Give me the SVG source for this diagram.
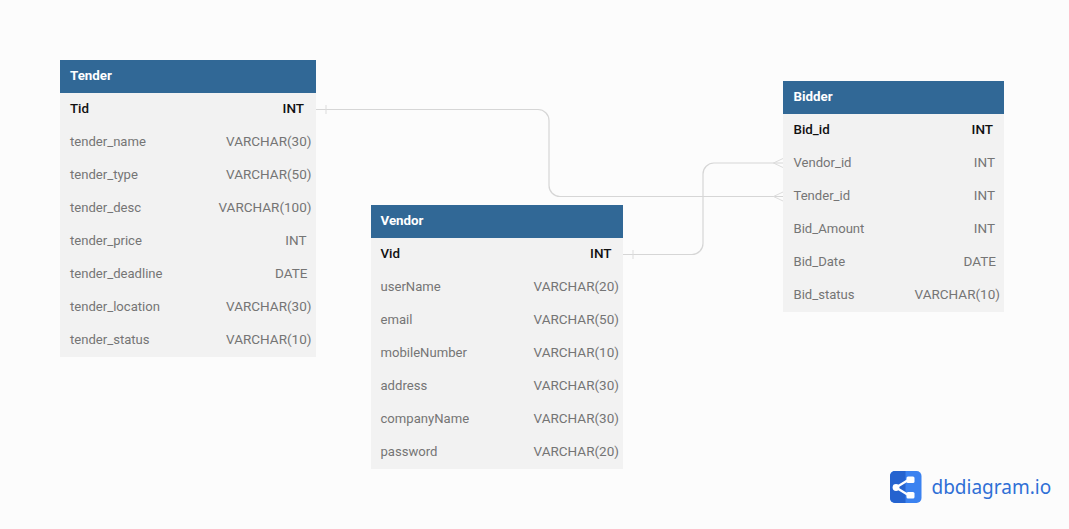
<svg xmlns="http://www.w3.org/2000/svg" width="1069" height="529" viewBox="0 0 1069 529">
<style>
text{font-family:Roboto,"Liberation Sans",sans-serif;font-size:13.100px}
text[text-anchor]{font-size:13.500px}
.body{fill:#f2f2f2}
.head{fill:#316896}
.title{fill:#fff;font-weight:700;font-size:13.330px}
.n{fill:#757575}
.pk{fill:#111;font-weight:500;font-size:13.330px}
.c{fill:none;stroke:#d6d6d6;stroke-width:1.2}
.m{fill:none;stroke:#dcdcdc;stroke-width:1}
</style>
<rect width="1069" height="529" fill="#fcfcfc"/>
<g id="connectors">
<path class="c" d="M316 109.500H538a11 11 0 0 1 11 11V185.500a11 11 0 0 0 11 11H783"/>
<path class="m" d="M326 105V114"/>
<path class="m" d="M783 192L773.500 196.500L783 201"/>
<path class="c" d="M623 254.500H692a11 11 0 0 0 11-11V174a11 11 0 0 1 11-11H783"/>
<path class="m" d="M633 250V259"/>
<path class="m" d="M783 158.500L773.500 163L783 167.500"/>
</g>
<g id="tender">
<rect class="body" x="60" y="60" width="256" height="297"/>
<rect class="head" x="60" y="60" width="256" height="33"/>
<text class="title" x="70" y="80">Tender</text>
<text class="pk" x="70" y="113">Tid</text><text class="pk" x="304" y="113" text-anchor="end">INT</text>
<text class="n" x="70" y="146">tender_name</text><text class="n" x="311.500" y="146" text-anchor="end">VARCHAR(30)</text>
<text class="n" x="70" y="179">tender_type</text><text class="n" x="311.500" y="179" text-anchor="end">VARCHAR(50)</text>
<text class="n" x="70" y="212">tender_desc</text><text class="n" x="311.500" y="212" text-anchor="end">VARCHAR(100)</text>
<text class="n" x="70" y="245">tender_price</text><text class="n" x="306.500" y="245" text-anchor="end">INT</text>
<text class="n" x="70" y="278">tender_deadline</text><text class="n" x="307.500" y="278" text-anchor="end">DATE</text>
<text class="n" x="70" y="311">tender_location</text><text class="n" x="311.500" y="311" text-anchor="end">VARCHAR(30)</text>
<text class="n" x="70" y="344">tender_status</text><text class="n" x="311.500" y="344" text-anchor="end">VARCHAR(10)</text>
</g>
<g id="vendor">
<rect class="body" x="371" y="205" width="252" height="264"/>
<rect class="head" x="371" y="205" width="252" height="33"/>
<text class="title" x="380.500" y="225">Vendor</text>
<text class="pk" x="380.500" y="258">Vid</text><text class="pk" x="611.500" y="258" text-anchor="end">INT</text>
<text class="n" x="380.500" y="291">userName</text><text class="n" x="619" y="291" text-anchor="end">VARCHAR(20)</text>
<text class="n" x="380.500" y="324">email</text><text class="n" x="619" y="324" text-anchor="end">VARCHAR(50)</text>
<text class="n" x="380.500" y="357">mobileNumber</text><text class="n" x="619" y="357" text-anchor="end">VARCHAR(10)</text>
<text class="n" x="380.500" y="390">address</text><text class="n" x="619" y="390" text-anchor="end">VARCHAR(30)</text>
<text class="n" x="380.500" y="423">companyName</text><text class="n" x="619" y="423" text-anchor="end">VARCHAR(30)</text>
<text class="n" x="380.500" y="456">password</text><text class="n" x="619" y="456" text-anchor="end">VARCHAR(20)</text>
</g>
<g id="bidder">
<rect class="body" x="783" y="81" width="221" height="231"/>
<rect class="head" x="783" y="81" width="221" height="33"/>
<text class="title" x="793.500" y="101">Bidder</text>
<text class="pk" x="793.500" y="134">Bid_id</text><text class="pk" x="993" y="134" text-anchor="end">INT</text>
<text class="n" x="793.500" y="167">Vendor_id</text><text class="n" x="995" y="167" text-anchor="end">INT</text>
<text class="n" x="793.500" y="200">Tender_id</text><text class="n" x="995" y="200" text-anchor="end">INT</text>
<text class="n" x="793.500" y="233">Bid_Amount</text><text class="n" x="995" y="233" text-anchor="end">INT</text>
<text class="n" x="793.500" y="266">Bid_Date</text><text class="n" x="996" y="266" text-anchor="end">DATE</text>
<text class="n" x="793.500" y="299">Bid_status</text><text class="n" x="1000" y="299" text-anchor="end">VARCHAR(10)</text>
</g>
<g id="logo">
<rect x="890" y="471" width="31.500" height="32" rx="5" fill="#3b82f0"/>
<path d="M895 471H905.500V503H895a5 5 0 0 1-5-5V476a5 5 0 0 1 5-5Z" fill="#2563cf"/>
<path d="M896 487.500L909 479.500M896 487.500L909 495.500" fill="none" stroke="#fff" stroke-width="2.200"/>
<circle cx="896" cy="487.500" r="3.400" fill="#fff"/>
<rect x="906.500" y="476.500" width="8" height="6.500" rx="1.500" fill="#fff"/>
<rect x="906.500" y="492" width="8" height="6.500" rx="1.500" fill="#fff"/>
<text x="931.500" y="493.500" style="font-family:'Noto Sans',Roboto,sans-serif;font-size:19px" fill="#2f6fd6">dbdiagram.io</text>
</g>
</svg>
